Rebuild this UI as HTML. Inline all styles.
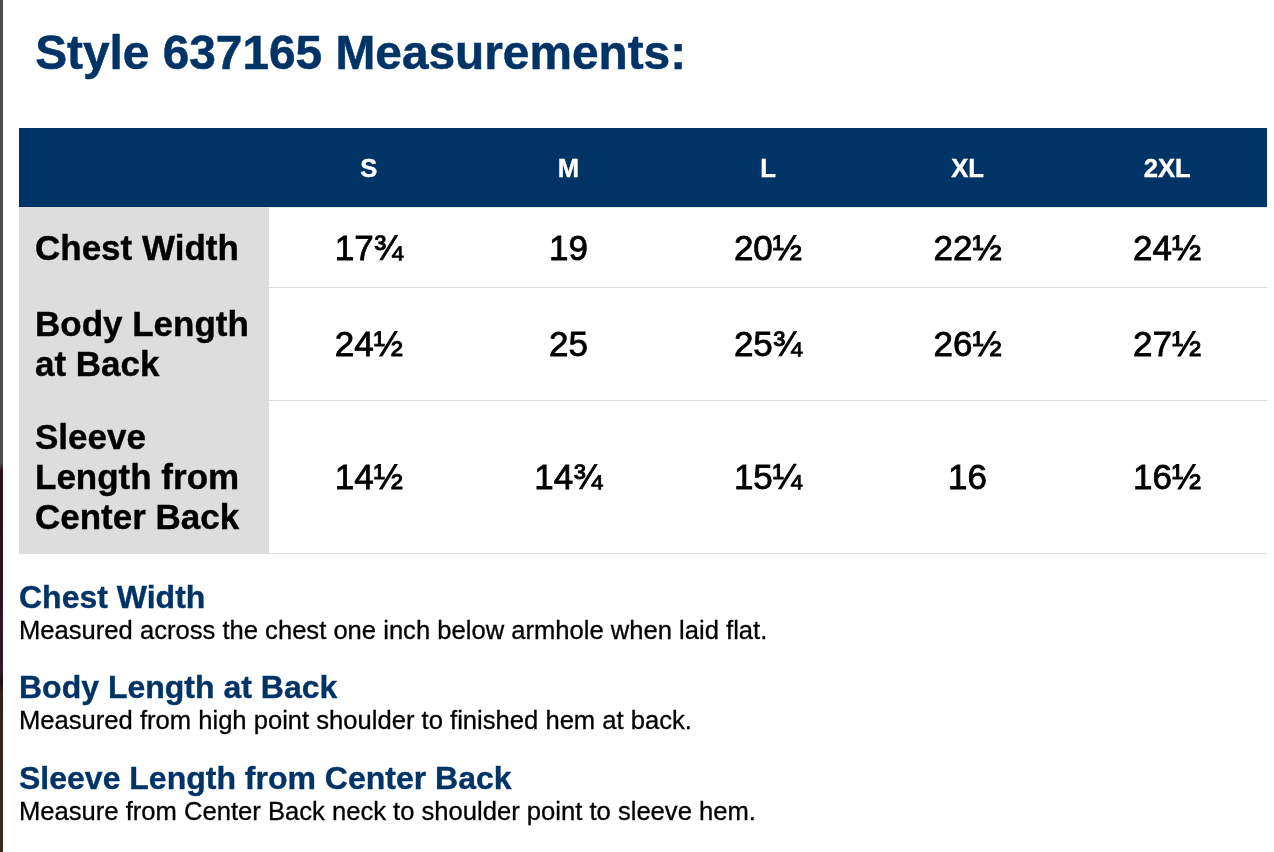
<!DOCTYPE html>
<html lang="en">
<head>
<meta charset="utf-8">
<title>Style 637165 Measurements</title>
<style>
  html, body { margin: 0; padding: 0; background: #fff; }
  body {
    width: 1274px; height: 852px; overflow: hidden; position: relative;
    font-family: "Liberation Sans", sans-serif;
    color: #000;
  }
  .strip {
    position: absolute; left: 0; top: 0; width: 3px; height: 852px;
    background: linear-gradient(to bottom,
      #4c4c4c 0px, #4c4c4c 463px, #2d0e1b 471px, #2f111f 560px, #36172b 672px,
      #1e0f10 683px, #33211a 692px, #3d2a1e 852px);
  }
  h1 {
    position: absolute; left: 35.2px; top: 25px; margin: 0;
    font-size: 47.8px; -webkit-text-stroke: 0.5px #003366; line-height: 56px; font-weight: bold; color: #003366;
    white-space: nowrap;
  }
  table {
    position: absolute; left: 19px; top: 128px; width: 1248px;
    border-collapse: separate; border-spacing: 0; table-layout: fixed;
  }
  th, td { padding: 0; margin: 0; box-sizing: border-box; vertical-align: middle; }
  thead th {
    height: 80px; background: #003366; color: #fff; font-size: 25.6px; -webkit-text-stroke: 0.4px #fff; font-weight: bold;
    text-align: center; padding-top: 2px; border-bottom: 1px solid #ece8e4;
  }
  thead th:first-child { width: 250px; border-bottom-color: #dfdbd7; }
  tbody th {
    background: #dddddd; text-align: left; font-size: 35px; -webkit-text-stroke: 0.4px #000; line-height: 40px; font-weight: bold;
    padding-left: 16px; border-bottom: 1px solid #dddddd;
  }
  tbody td {
    text-align: center; font-size: 35px; -webkit-text-stroke: 0.8px #000; line-height: 40px; border-bottom: 1px solid #dddddd;
  }
  .f { -webkit-text-stroke: 0.9px #000; }
  tr.r1 th, tr.r1 td { height: 80px; }
  tr.r2 th, tr.r2 td { height: 113px; }
  tr.r3 th, tr.r3 td { height: 153px; }
  .defs { position: absolute; left: 19px; top: 578.7px; margin: 0; }
  .defs dt { -webkit-text-stroke: 0.35px #003366; font-size: 32px; line-height: 37px; font-weight: bold; color: #003366; margin: 0; white-space: nowrap; }
  .defs dd { -webkit-text-stroke: 0.3px #000; font-size: 25.6px; line-height: 29px; margin: 0 0 24.7px 0; white-space: nowrap; }
</style>
</head>
<body>
<div class="strip"></div>
<h1>Style 637165 Measurements:</h1>
<table>
  <thead>
    <tr><th></th><th>S</th><th>M</th><th>L</th><th>XL</th><th>2XL</th></tr>
  </thead>
  <tbody>
    <tr class="r1"><th>Chest Width</th><td>17<span class="f">¾</span></td><td>19</td><td>20<span class="f">½</span></td><td>22<span class="f">½</span></td><td>24<span class="f">½</span></td></tr>
    <tr class="r2"><th>Body Length<br>at Back</th><td>24<span class="f">½</span></td><td>25</td><td>25<span class="f">¾</span></td><td>26<span class="f">½</span></td><td>27<span class="f">½</span></td></tr>
    <tr class="r3"><th>Sleeve<br>Length from<br>Center Back</th><td>14<span class="f">½</span></td><td>14<span class="f">¾</span></td><td>15<span class="f">¼</span></td><td>16</td><td>16<span class="f">½</span></td></tr>
  </tbody>
</table>
<dl class="defs">
  <dt>Chest Width</dt>
  <dd>Measured across the chest one inch below armhole when laid flat.</dd>
  <dt>Body Length at Back</dt>
  <dd>Measured from high point shoulder to finished hem at back.</dd>
  <dt>Sleeve Length from Center Back</dt>
  <dd>Measure from Center Back neck to shoulder point to sleeve hem.</dd>
</dl>
</body>
</html>
